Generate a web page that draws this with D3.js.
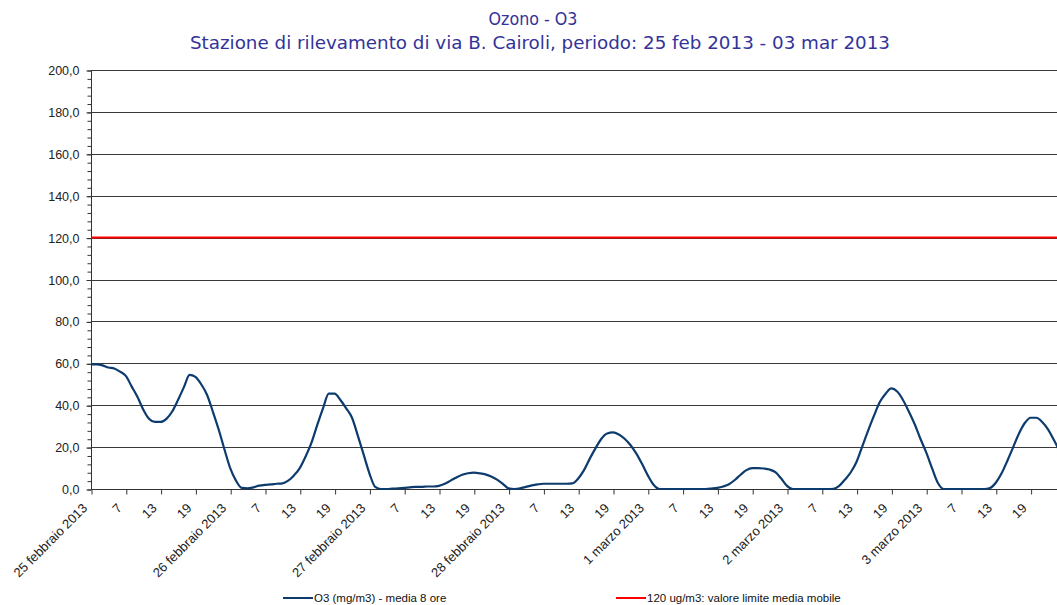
<!DOCTYPE html>
<html>
<head>
<meta charset="utf-8">
<script src="https://cdn.jsdelivr.net/npm/d3@7"></script>
<style>
  body { margin: 0; background: #fff; }
  svg { display: block; font-family: "Liberation Sans", Arial, sans-serif; }
  .axis path, .axis line { stroke: #333; }
  .axis text { fill: #222; font-size: 12.5px; }
</style>
</head>
<body>
<svg id="chart" width="1057" height="605"></svg>
<script>
// etichette dei giorni (una ogni 24 ore) e delle ore intermedie
var giorni = ['25 febbraio 2013', '26 febbraio 2013', '27 febbraio 2013', '28 febbraio 2013',
  '1 marzo 2013', '2 marzo 2013', '3 marzo 2013']
var oreEtichette = ['', '7', '13', '19']

// O3 media 8 ore, un valore per ora (ore 1..24 di ogni giorno)
var o3Giorno1 = [59.5, 59.5, 59, 58, 57.5, 56, 54, 49, 44, 38, 33.5, 32, 32, 33.5, 37, 42.5, 48.5, 54.5, 53.5, 50, 45, 37, 28.5, 19]
var o3Giorno2 = [10, 4, 0.5, 0.3, 0.8, 1.6, 2, 2.2, 2.5, 2.7, 4, 6.5, 10, 15.5, 22, 30.5, 38.5, 45.5, 45.5, 42.5, 38.5, 34, 25.5, 16.5]
var o3Giorno3 = [7.5, 1, 0, 0, 0.2, 0.3, 0.5, 0.8, 1, 1, 1.2, 1.2, 1.5, 2.5, 4, 5.5, 6.8, 7.5, 7.8, 7.5, 7, 6, 4.5, 2.5]
var o3Giorno4 = [0.3, 0, 0.3, 1, 1.7, 2.2, 2.5, 2.5, 2.5, 2.5, 2.5, 2.7, 5, 9, 14.5, 19.5, 24, 26.5, 27, 26, 24, 21, 17, 12]
var o3Giorno5 = [6.5, 2, 0, 0, 0, 0, 0, 0, 0, 0, 0, 0.2, 0.5, 1.2, 2.3, 4.3, 6.8, 9, 10, 10, 9.8, 9.3, 8, 5]
var o3Giorno6 = [1.5, 0, 0, 0, 0, 0, 0, 0, 0.1, 1.5, 4.5, 8, 13, 20.5, 28, 35, 41.5, 45.5, 48, 46.5, 42.5, 37, 31, 24]
var o3Giorno7 = [17.5, 10, 3, 0, 0, 0, 0, 0, 0, 0, 0, 0.5, 3, 7.5, 13.5, 20, 26.5, 31.5, 34, 34, 32, 28.5, 23.5, 18]

var limite = 120
var yTicks = [0, 20, 40, 60, 80, 100, 120, 140, 160, 180, 200];

(function() {
  var o3 = [].concat(o3Giorno1, o3Giorno2, o3Giorno3, o3Giorno4, o3Giorno5, o3Giorno6, o3Giorno7)

  var svg = d3.select('#chart')
  var left = 91, plotTop = 70, bottom = 489
  var step = 5.8
  var right = left + (o3.length - 1) * step
  var gridRight = 1057

  var x = d3.scaleLinear().domain([0, o3.length - 1]).range([left, right])
  var y = d3.scaleLinear().domain([0, 200]).range([bottom, plotTop])

  // titolo
  svg.append('text')
    .attr('x', 533).attr('y', 25)
    .attr('text-anchor', 'middle')
    .attr('fill', '#333399')
    .style('font-family', '"DejaVu Sans", Verdana, sans-serif')
    .style('font-size', '17px')
    .attr('textLength', 89).attr('lengthAdjust', 'spacingAndGlyphs')
    .text('Ozono - O3')
  svg.append('text')
    .attr('x', 540).attr('y', 49)
    .attr('text-anchor', 'middle')
    .attr('fill', '#333399')
    .style('font-family', '"DejaVu Sans", Verdana, sans-serif')
    .style('font-size', '17px')
    .attr('textLength', 700).attr('lengthAdjust', 'spacingAndGlyphs')
    .text('Stazione di rilevamento di via B. Cairoli, periodo: 25 feb 2013 - 03 mar 2013')

  // griglia orizzontale
  svg.append('g')
    .selectAll('line')
    .data(yTicks.slice(1))
    .enter().append('line')
    .attr('x1', left).attr('x2', gridRight)
    .attr('y1', d => Math.round(y(d)) + 0.5).attr('y2', d => Math.round(y(d)) + 0.5)
    .attr('stroke', '#3a3a3a')

  // asse y: tacche minori ogni 4
  svg.append('g')
    .attr('class', 'axis')
    .attr('transform', 'translate(' + (left + 0.5) + ',0.5)')
    .call(d3.axisLeft(y).tickValues(d3.range(0, 201, 4)).tickSize(4).tickFormat(''))
    .call(g => g.select('.domain').remove())

  var yAxis = d3.axisLeft(y)
    .tickValues(yTicks)
    .tickSize(5)
    .tickPadding(7)
    .tickFormat(d => d3.format('.1f')(d).replace('.', ','))
  svg.append('g')
    .attr('class', 'axis')
    .attr('transform', 'translate(' + (left + 0.5) + ',0.5)')
    .call(yAxis)
    .call(g => g.select('.domain').attr('d', 'M0,' + y(200) + 'V' + y(0)))

  // asse x
  var xTicks = d3.range(0, o3.length, 6)
  var xAxis = d3.axisBottom(x)
    .tickValues(xTicks)
    .tickSize(5)
    .tickFormat('')
  var gx = svg.append('g')
    .attr('class', 'axis')
    .attr('transform', 'translate(0.5,' + (bottom + 0.5) + ')')
    .call(xAxis)
  gx.select('.domain').attr('d', 'M' + left + ',0H' + gridRight)

  svg.append('g')
    .selectAll('text')
    .data(xTicks)
    .enter().append('text')
    .attr('transform', d => 'translate(' + (x(d) - 3) + ',' + (bottom + 20) + ') rotate(-45)')
    .attr('text-anchor', 'end')
    .attr('fill', '#222')
    .style('font-size', '13px')
    .text(d => {
      var k = (d / 6) % 4
      return k === 0 ? giorni[d / 24] : oreEtichette[k]
    })

  // linea limite
  svg.append('line')
    .attr('x1', left).attr('x2', gridRight)
    .attr('y1', y(limite)).attr('y2', y(limite))
    .attr('stroke', '#ff0000').attr('stroke-width', 2)

  // serie O3
  var line = d3.line()
    .x((d, i) => x(i))
    .y(d => y(d))
    .curve(d3.curveMonotoneX)
  svg.append('path')
    .datum(o3)
    .attr('d', line)
    .attr('fill', 'none')
    .attr('stroke', '#0d3b6e')
    .attr('stroke-width', 2.2)
    .attr('stroke-linejoin', 'round')

  // legenda
  var legenda = [
    {label: 'O3 (mg/m3) - media 8 ore', color: '#0d3b6e', x: 283},
    {label: '120 ug/m3: valore limite media mobile', color: '#ff0000', x: 616}
  ]
  var lg = svg.append('g').selectAll('g').data(legenda).enter().append('g')
    .attr('transform', d => 'translate(' + d.x + ',598)')
  lg.append('line')
    .attr('x1', 0).attr('x2', 30)
    .attr('stroke', d => d.color).attr('stroke-width', 2)
  lg.append('text')
    .attr('x', 31).attr('y', 4)
    .attr('fill', '#111')
    .style('font-size', '11.5px')
    .text(d => d.label)
})()
</script>
</body>
</html>
